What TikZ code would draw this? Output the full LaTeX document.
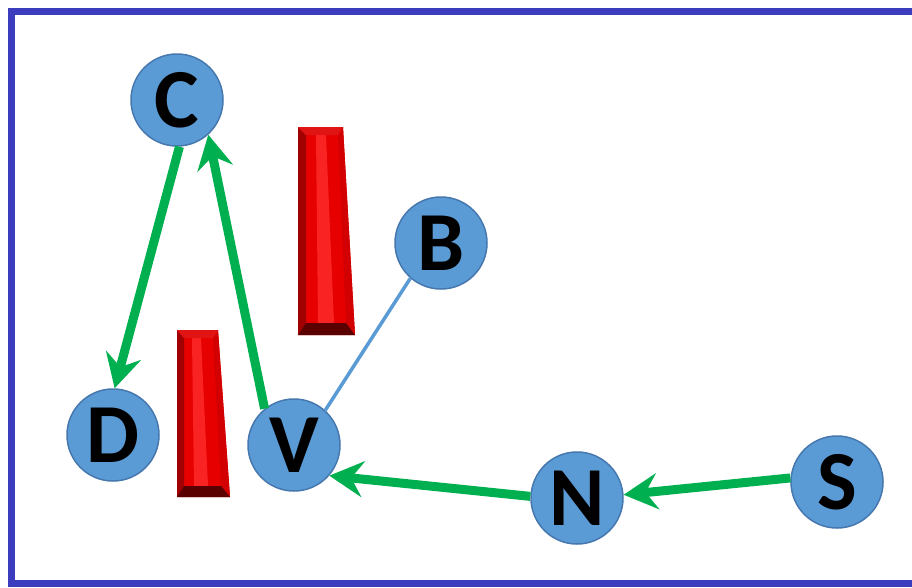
\documentclass[tikz,border=0pt]{standalone}
\usepackage{fontspec}
\setmainfont{Carlito}
\usetikzlibrary{arrows.meta}
\definecolor{nodeblue}{RGB}{91,155,213}
\definecolor{nodeedge}{RGB}{70,120,175}
\definecolor{arrgreen}{RGB}{0,176,80}
\definecolor{framecol}{RGB}{60,60,190}
\definecolor{redbase}{RGB}{230,0,0}
\definecolor{redleft}{RGB}{160,0,0}
\definecolor{redbot}{RGB}{90,0,0}
\definecolor{redright}{RGB}{210,0,0}
\definecolor{redtop}{RGB}{225,20,20}
\definecolor{redhi}{RGB}{250,35,35}
\tikzset{
  vert/.style={circle, fill=nodeblue, draw=nodeedge, line width=1.5pt, minimum size=92pt, inner sep=0pt,
    font=\fontsize{84}{84}\selectfont\bfseries, text=black},
  garrow/.style={draw=arrgreen, line width=9pt, -{Stealth[length=34pt, width=36pt, inset=12pt]}},
  bline/.style={draw=nodeblue, line width=3.5pt},
}
\begin{document}
\begin{tikzpicture}[x=1pt, y=-1pt]
\useasboundingbox (0,0) rectangle (912,587);
\fill[white] (0,0) rectangle (912,587);
\draw[framecol, line width=7pt] (11,11) rectangle (918,583);
% big red bar
\fill[redbase] (298,127) -- (343,127) -- (355,335) -- (298,335) -- cycle;
\fill[redhi] (316,135) -- (326,135) -- (334,323) -- (318,323) -- cycle;
\fill[redleft] (298,127) -- (306,135) -- (306,323) -- (298,335) -- cycle;
\fill[redright] (343,127) -- (338,135) -- (346,323) -- (355,335) -- cycle;
\fill[redtop] (298,127) -- (343,127) -- (338,135) -- (306,135) -- cycle;
\fill[redbot] (298,335) -- (306,323) -- (346,323) -- (355,335) -- cycle;
% small red bar
\fill[redbase] (177,330) -- (218,330) -- (230,497) -- (177,497) -- cycle;
\fill[redhi] (192,338) -- (201,338) -- (208,486) -- (194,486) -- cycle;
\fill[redleft] (177,330) -- (184,338) -- (184,486) -- (177,497) -- cycle;
\fill[redright] (218,330) -- (213,338) -- (221,486) -- (230,497) -- cycle;
\fill[redtop] (177,330) -- (218,330) -- (213,338) -- (184,338) -- cycle;
\fill[redbot] (177,497) -- (184,486) -- (221,486) -- (230,497) -- cycle;
% nodes
\node[vert] (C) at (177,100) {C};
\node[vert] (B) at (441,243) {B};
\node[vert] (D) at (113,435) {D};
\node[vert] (V) at (294,445) {V};
\node[vert] (N) at (577,498) {N};
\node[vert] (S) at (837,482) {S};
% connectors
\draw[bline] (B.229) -- (V.48);
\draw[garrow] (C.-87) -- (D.88);
\draw[garrow] (V.129) -- (C.-48);
\draw[garrow] (N.178) -- (V.-41);
\draw[garrow] (S.175) -- (N.4);
\end{tikzpicture}
\end{document}
